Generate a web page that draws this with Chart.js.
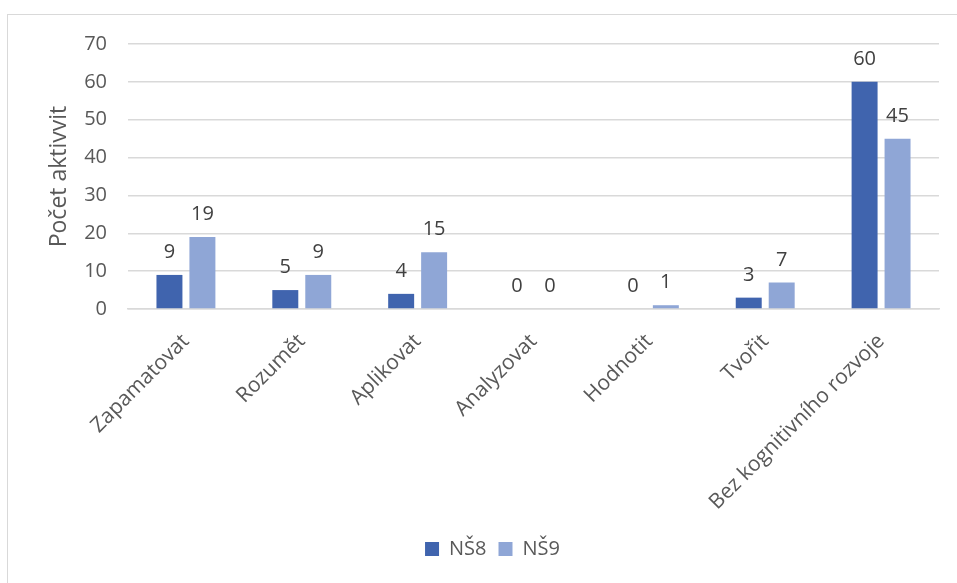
<!DOCTYPE html>
<html><head><meta charset="utf-8">
<script src="https://cdn.jsdelivr.net/npm/chart.js@4/dist/chart.umd.min.js"></script>
<style>
html,body{margin:0;padding:0;background:#fff;overflow:hidden;}
#wrap{position:absolute;left:0;top:0;width:957px;height:583px;}
#frame{position:absolute;left:7px;top:14px;width:1000px;height:1000px;border:1px solid #d9d9d9;pointer-events:none;}
</style></head>
<body>
<div id="wrap"><canvas id="c" width="957" height="583"></canvas></div>
<div id="frame"></div>
<script>
const categories = ["Zapamatovat","Rozumět","Aplikovat","Analyzovat","Hodnotit","Tvořit","Bez kognitivního rozvoje"];
const seriesNames = ["NŠ8","NŠ9"];
const ns8 = [9,5,4,0,0,3,60];
const ns9 = [19,9,15,0,1,7,45];
const yTicks = [0,10,20,30,40,50,60,70];
const axisTitle = "Počet aktivvit";

const FONT = "'Open Sans', 'Noto Sans', sans-serif";

const labelPlugin = {
  id:'valueLabels',
  afterDatasetsDraw(chart){
    const ctx = chart.ctx;
    ctx.save();
    ctx.font = "20px " + FONT;
    ctx.fillStyle = "#404040";
    ctx.textAlign = "center";
    ctx.textBaseline = "alphabetic";
    chart.data.datasets.forEach((ds,i)=>{
      const meta = chart.getDatasetMeta(i);
      meta.data.forEach((el,j)=>{
        ctx.fillText(String(ds.data[j]), el.x, el.y - 17);
      });
    });
    ctx.restore();
  }
};

new Chart(document.getElementById('c'), {
  type:'bar',
  data:{
    labels:categories,
    datasets:[
      {label:seriesNames[0], data:ns8, backgroundColor:'#4064AE', categoryPercentage:0.569, barPercentage:0.788},
      {label:seriesNames[1], data:ns9, backgroundColor:'#8FA6D6', categoryPercentage:0.569, barPercentage:0.788}
    ]
  },
  options:{
    responsive:false,
    animation:false,
    layout:{padding:{top:44,right:18,left:46,bottom:14}},
    plugins:{
      legend:{
        position:'bottom',
        labels:{boxWidth:14,boxHeight:14,font:{size:20,family:FONT},color:'#595959',padding:12}
      },
      tooltip:{enabled:false}
    },
    scales:{
      x:{
        grid:{display:false,drawTicks:false},
        border:{color:'#d9d9d9',width:1.5},
        ticks:{font:{size:21,family:FONT},color:'#595959',maxRotation:45,minRotation:45,padding:20,autoSkip:false},
        afterFit(s){ s.height = 218; }
      },
      y:{
        min:0,max:70,
        afterBuildTicks(s){ s.ticks = yTicks.map(v=>({value:v})); },
        grid:{color:'#d9d9d9',lineWidth:1.5,drawTicks:false},
        border:{display:false},
        ticks:{font:{size:20,family:FONT},color:'#595959',padding:21},
        title:{display:true,text:axisTitle,font:{size:23,family:FONT},color:'#595959',padding:{top:0,bottom:0}},
        afterFit(s){ s.width = 82; }
      }
    }
  },
  plugins:[labelPlugin]
});
</script>
</body></html>
